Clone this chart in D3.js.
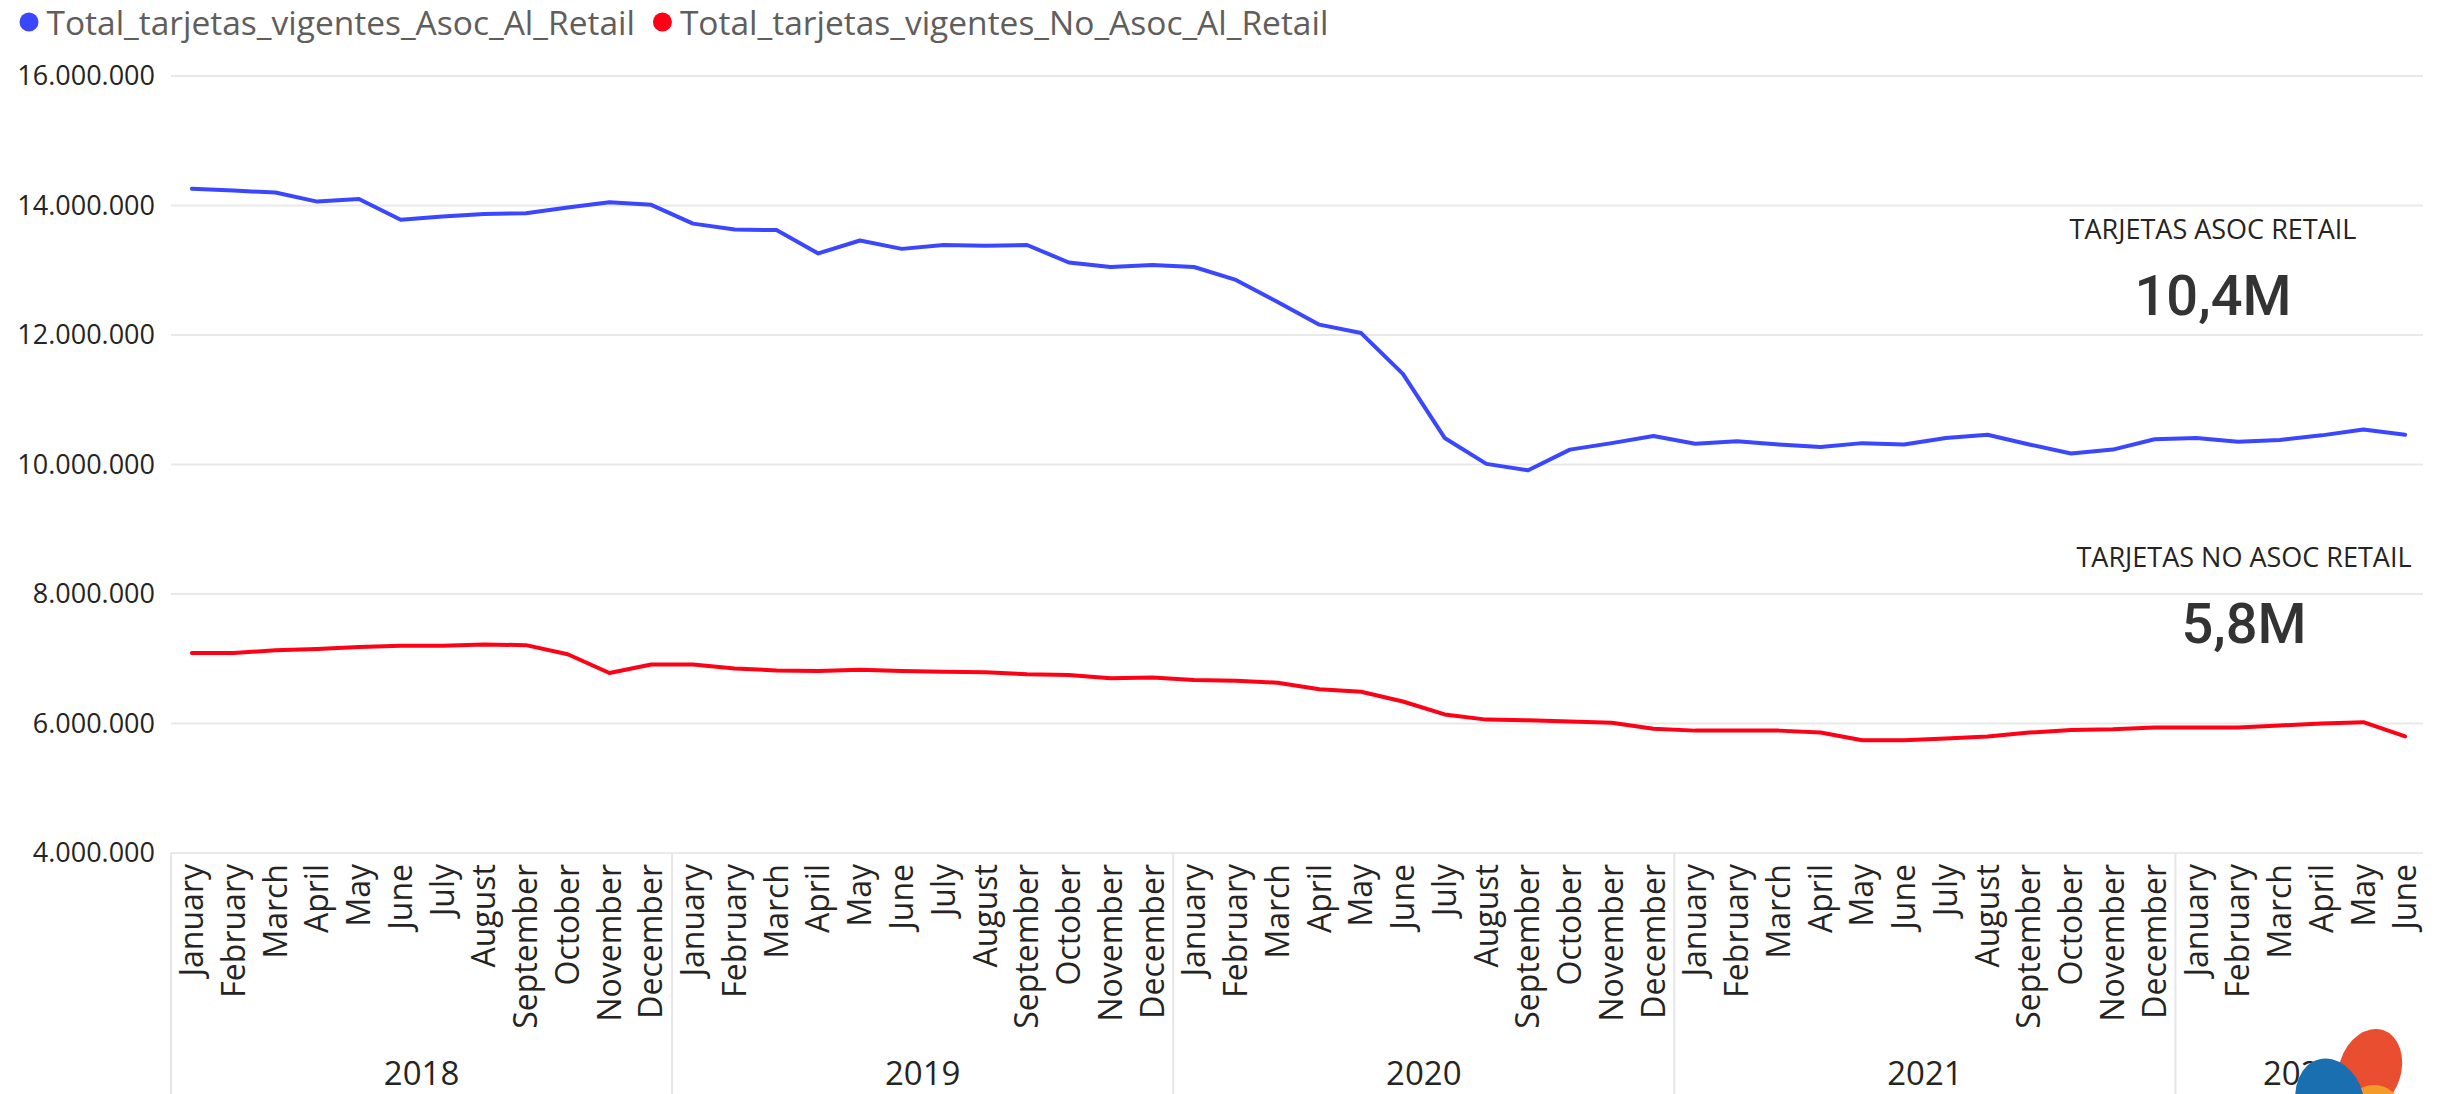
<!DOCTYPE html>
<html lang="es">
<head>
<meta charset="UTF-8">
<title>Tarjetas vigentes</title>
<script src="https://d3js.org/d3.v7.min.js"></script>
<style>
  body { margin: 0; background: #fff; }
  svg { display: block; font-family: "Open Sans", sans-serif; }
</style>
</head>
<body>
<svg id="chart" width="2448" height="1094"></svg>
<script>
const years = ["2018", "2019", "2020", "2021", "2022"];
const months = ["January", "February", "March", "April", "May", "June",
  "July", "August", "September", "October", "November", "December"];

// Jan 2018 .. Jun 2022
const asocRetail = [
  14260000, 14230000, 14200000, 14060000, 14100000, 13780000, 13830000, 13870000, 13880000, 13970000, 14050000, 14010000,
  13720000, 13630000, 13620000, 13260000, 13460000, 13330000, 13390000, 13380000, 13390000, 13120000, 13050000, 13080000,
  13050000, 12850000, 12510000, 12160000, 12030000, 11400000, 10410000, 10010000, 9910000, 10230000, 10330000, 10440000,
  10320000, 10360000, 10310000, 10270000, 10330000, 10310000, 10410000, 10460000, 10310000, 10170000, 10230000, 10390000,
  10410000, 10350000, 10380000, 10450000, 10540000, 10460000
];
const noAsocRetail = [
  7090000, 7090000, 7130000, 7150000, 7180000, 7200000, 7200000, 7220000, 7210000, 7070000, 6780000, 6910000,
  6910000, 6850000, 6820000, 6810000, 6830000, 6810000, 6800000, 6790000, 6760000, 6750000, 6700000, 6710000,
  6670000, 6660000, 6630000, 6530000, 6490000, 6340000, 6140000, 6060000, 6050000, 6030000, 6010000, 5920000,
  5890000, 5890000, 5890000, 5860000, 5740000, 5740000, 5770000, 5800000, 5860000, 5900000, 5910000, 5940000,
  5940000, 5940000, 5970000, 6000000, 6020000, 5800000
];
const yTicks = [4000000, 6000000, 8000000, 10000000, 12000000, 14000000, 16000000];
const seriesNames = ["Total_tarjetas_vigentes_Asoc_Al_Retail", "Total_tarjetas_vigentes_No_Asoc_Al_Retail"];
const seriesColors = ["#3a47ff", "#ff0016"];
const kpiLabels = ["TARJETAS ASOC RETAIL", "TARJETAS NO ASOC RETAIL"];
const kpiValues = ["10,4M", "5,8M"];

const periods = asocRetail.map((_, i) => ({ key: i, year: years[Math.floor(i / 12)], month: months[i % 12] }));
const series = [asocRetail, noAsocRetail];

const svg = d3.select("#chart");
const plotLeft = 171, plotRight = 2426, plotTop = 76, plotBottom = 853;

const x = d3.scaleBand().domain(periods.map(p => p.key)).range([plotLeft, plotRight]).padding(0);
const y = d3.scaleLinear().domain([4000000, 16000000]).range([plotBottom, plotTop]);
const cx = i => x(i) + x.bandwidth() / 2;

const es = d3.formatLocale({ decimal: ",", thousands: ".", grouping: [3], currency: ["$", ""] });
const fmt = es.format(",d");

// gridlines + y labels
svg.append("g").selectAll("line")
  .data(yTicks).enter().append("line")
  .attr("x1", plotLeft).attr("x2", plotRight - 3)
  .attr("y1", d => y(d)).attr("y2", d => y(d))
  .attr("stroke", "#e9e9e9").attr("stroke-width", 2);

svg.append("g").selectAll("text")
  .data(yTicks).enter().append("text")
  .attr("x", 155).attr("y", d => y(d)).attr("dy", "0.35em")
  .attr("text-anchor", "end")
  .style("font-size", "27px").style("fill", "#252423")
  .text(d => fmt(d));

// year separators
const yearStarts = years.map((yr, i) => i * 12);
svg.append("g").selectAll("line")
  .data(yearStarts).enter().append("line")
  .attr("x1", d => x(d)).attr("x2", d => x(d))
  .attr("y1", plotBottom).attr("y2", 1094)
  .attr("stroke", "#e6e6e6").attr("stroke-width", 2);

// month labels
svg.append("g").selectAll("text")
  .data(periods).enter().append("text")
  .attr("transform", d => `translate(${cx(d.key)},864) rotate(-90)`)
  .attr("dy", "0.35em")
  .attr("text-anchor", "end")
  .style("font-size", "32px").style("fill", "#252423")
  .text(d => d.month);

// year labels
svg.append("g").selectAll("text")
  .data(years).enter().append("text")
  .attr("x", (d, i) => {
    const first = i * 12;
    const last = Math.min(first + 11, periods.length - 1);
    return (x(first) + x(last) + x.bandwidth()) / 2;
  })
  .attr("y", 1085)
  .attr("text-anchor", "middle")
  .style("font-size", "33px").style("fill", "#252423")
  .text(d => d);

// lines
const line = d3.line().x((d, i) => cx(i)).y(d => y(d));
svg.append("g").selectAll("path")
  .data(series).enter().append("path")
  .attr("d", d => line(d))
  .attr("fill", "none")
  .attr("stroke", (d, i) => seriesColors[i])
  .attr("stroke-width", 4)
  .attr("stroke-linejoin", "round")
  .attr("stroke-linecap", "round");

// legend
const legend = svg.append("g");
let pos = 19.5;
seriesNames.forEach((name, i) => {
  legend.append("circle")
    .attr("cx", pos + 9.5).attr("cy", 22).attr("r", 9.5)
    .attr("fill", seriesColors[i]);
  const t = legend.append("text")
    .attr("x", pos + 27).attr("y", 35)
    .style("font-size", "33.5px").style("fill", "#605e5c")
    .text(name);
  pos = pos + 27 + t.node().getComputedTextLength() + 18;
});

// KPI cards
const kpiPos = [{ cx: 2213, ty: 239, vy: 315 }, { cx: 2244, ty: 567, vy: 643 }];
kpiLabels.forEach((lab, i) => {
  svg.append("text")
    .attr("x", kpiPos[i].cx).attr("y", kpiPos[i].ty)
    .attr("text-anchor", "middle")
    .style("font-size", "27px").style("fill", "#252423")
    .text(lab);
  svg.append("text")
    .attr("x", kpiPos[i].cx).attr("y", kpiPos[i].vy)
    .attr("text-anchor", "middle")
    .style("font-family", "Roboto, sans-serif")
    .style("font-weight", 500)
    .style("font-size", "56px").style("fill", "#333333")
    .text(kpiValues[i]);
});

// logo in the corner
const logo = svg.append("g");
logo.append("ellipse").attr("transform", "translate(2370,1070) rotate(18)")
  .attr("rx", 31).attr("ry", 42).attr("fill", "#e84e2f");
logo.append("ellipse").attr("transform", "translate(2374,1112) rotate(0)")
  .attr("rx", 28).attr("ry", 27).attr("fill", "#f39a2b");
logo.append("ellipse").attr("transform", "translate(2330,1102) rotate(-15)")
  .attr("rx", 34).attr("ry", 44).attr("fill", "#1a6fb0");
</script>
</body>
</html>
